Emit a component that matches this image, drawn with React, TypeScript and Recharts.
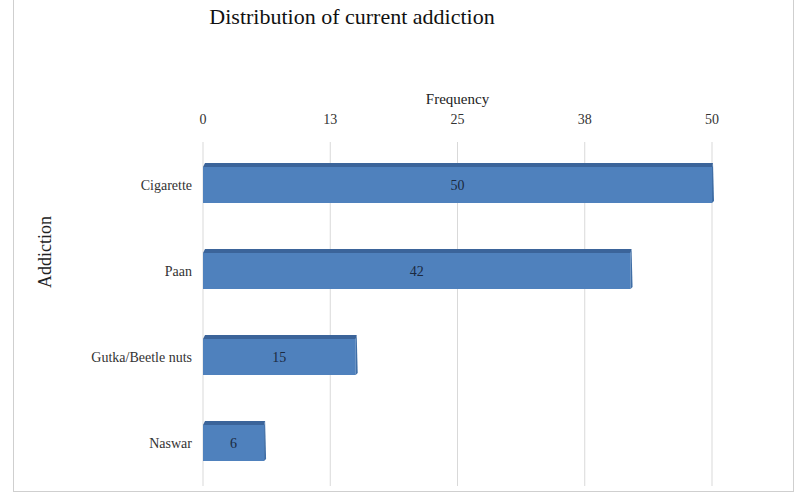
import React from 'react';
import { BarChart, Bar, XAxis, YAxis, CartesianGrid, LabelList } from 'recharts';

const categories = ['Cigarette', 'Paan', 'Gutka/Beetle nuts', 'Naswar'];
const frequency = [50, 42, 15, 6];
const tickValues = [0, 12.5, 25, 37.5, 50];

const data = categories.map((name, i) => ({ name, value: frequency[i] }));

const FONT = '"Liberation Serif", "DejaVu Serif", serif';

// flat bar with a darker top face, to hint at the excel 3d look
const Bar3D = (props: any) => {
  const { x, y, width, height } = props;
  const d = 4;
  return (
    <g>
      <path
        d={`M${x},${y} L${x + 2},${y - d} L${x + width + 1},${y - d} L${x + width},${y} Z`}
        fill="#3b649a"
      />
      <rect x={x} y={y} width={width} height={height} fill="#4f81bd" />
      <path
        d={`M${x + width},${y} L${x + width + 1},${y - d} L${x + width + 2},${y + height - 2} L${x + width},${y + height} Z`}
        fill="#3f6ea6"
      />
    </g>
  );
};

const AxisTitle = (props: any) => {
  const { viewBox } = props;
  const cx = viewBox.x + 15;
  const cy = viewBox.y + viewBox.height / 2 - 62;
  return (
    <text
      x={cx}
      y={cy}
      transform={`rotate(-90, ${cx}, ${cy})`}
      textAnchor="middle"
      dominantBaseline="central"
      fontFamily={FONT}
      fontSize={18}
      fill="#222"
    >
      Addiction
    </text>
  );
};

export default function App() {
  return (
    <div style={{ position: 'relative', width: 800, height: 496, fontFamily: FONT, background: '#fff' }}>
      <style>{'body { margin: 0; }'}</style>
      <div
        style={{
          position: 'absolute',
          left: 13,
          top: -2,
          right: 6,
          bottom: 4,
          border: '1px solid #cfcfcf',
          boxSizing: 'border-box',
        }}
      />
      <div
        style={{
          position: 'absolute',
          left: 0,
          top: 4,
          width: 704,
          textAlign: 'center',
          fontSize: 22,
          lineHeight: '26px',
          color: '#111',
        }}
      >
        Distribution of current addiction
      </div>
      <div style={{ position: 'absolute', left: 0, top: 0 }}>
        <BarChart
          width={800}
          height={496}
          data={data}
          layout="vertical"
          margin={{ top: 112, right: 88, bottom: 10, left: 30 }}
        >
          <CartesianGrid horizontal={false} stroke="#d9d9d9" />
          <XAxis
            type="number"
            orientation="top"
            domain={[0, 50]}
            ticks={tickValues}
            tickFormatter={(v: number) => String(Math.round(v))}
            axisLine={false}
            tickLine={false}
            tickMargin={12}
            height={30}
            tick={{ fill: '#333', fontSize: 14, fontFamily: FONT }}
            label={{ value: 'Frequency', position: 'top', offset: 8, fill: '#222', fontSize: 15, fontFamily: FONT }}
          />
          <YAxis
            type="category"
            dataKey="name"
            width={173}
            axisLine={false}
            tickLine={false}
            tickMargin={5}
            tick={{ fill: '#333', fontSize: 14, fontFamily: FONT }}
            label={<AxisTitle />}
          />
          <Bar dataKey="value" barSize={36} shape={<Bar3D />} isAnimationActive={false}>
            <LabelList dataKey="value" position="center" fill="#1b2a40" fontSize={14} fontFamily={FONT} />
          </Bar>
        </BarChart>
      </div>
    </div>
  );
}
